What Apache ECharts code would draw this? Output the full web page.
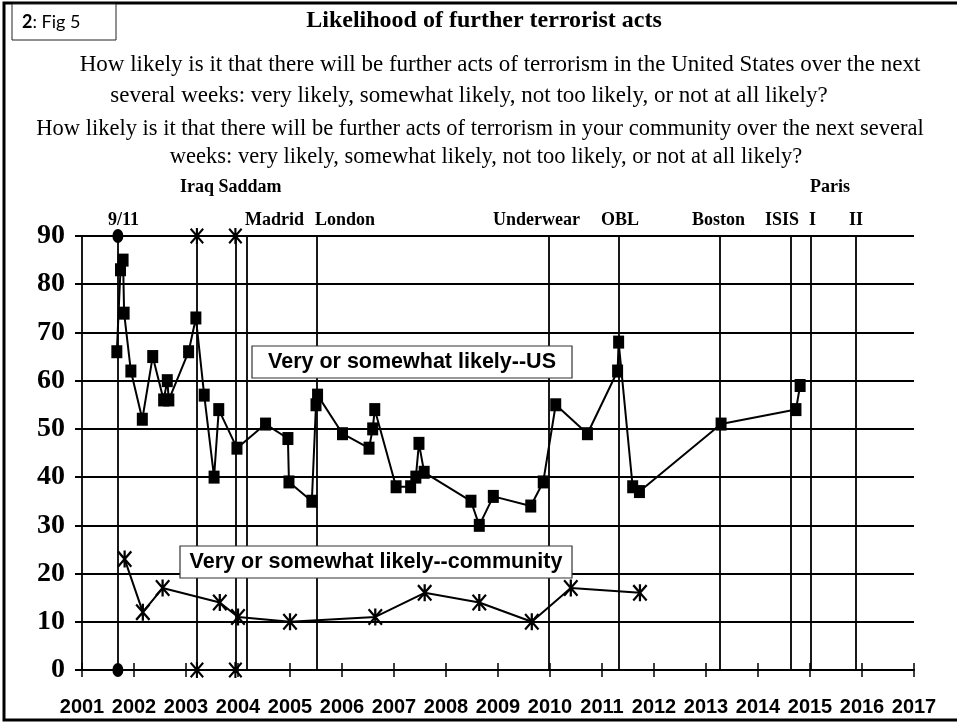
<!DOCTYPE html>
<html>
<head>
<meta charset="utf-8">
<script src="https://cdn.jsdelivr.net/npm/echarts@6/dist/echarts.min.js"></script>
<style>
  html, body { margin: 0; padding: 0; background: #fff; }
  #chart { width: 957px; height: 723px; }
</style>
</head>
<body>
<div id="chart"></div>
<script>
// survey dates (decimal years) and % very/somewhat likely -- US
const usYears = [2001.67, 2001.74, 2001.79, 2001.81, 2001.94, 2002.16, 2002.36, 2002.57, 2002.64, 2002.67,
    2003.05, 2003.19, 2003.35, 2003.54, 2003.63, 2003.98, 2004.53, 2004.96, 2004.98, 2005.42,
    2005.50, 2005.53, 2006.01, 2006.52, 2006.59, 2006.63, 2007.04, 2007.32, 2007.42, 2007.48,
    2007.58, 2008.48, 2008.64, 2008.91, 2009.63, 2009.87, 2010.11, 2010.72, 2011.30, 2011.32,
    2011.59, 2011.72, 2013.29, 2014.73, 2014.81];
const usValues = [66, 83, 85, 74, 62, 52, 65, 56, 60, 56,
    66, 73, 57, 40, 54, 46, 51, 48, 39, 35,
    55, 57, 49, 46, 50, 54, 38, 38, 40, 47,
    41, 35, 30, 36, 34, 39, 55, 49, 62, 68,
    38, 37, 51, 54, 59];

// community
const commYears = [2001.82, 2002.17, 2002.55, 2003.65, 2004.00, 2005.00, 2006.64, 2007.59, 2008.64, 2009.65, 2010.40, 2011.73];
const commValues = [23, 12, 17, 14, 11, 10, 11, 16, 14, 10, 17, 16];

// events: 9/11, Iraq, Saddam, Madrid, London, Underwear, OBL, Boston, ISIS, Paris I, Paris II
const eventYears = [2001.69, 2003.21, 2003.95, 2004.16, 2005.51, 2009.98, 2011.33, 2013.27, 2014.63, 2015.01, 2015.88];
const eventEnds = ['circle', 'star', 'star', '', '', '', '', '', '', '', ''];
const eventSpan = [0, 90];

const yTicks = [0, 10, 20, 30, 40, 50, 60, 70, 80, 90];

// asterisk: vertical bar plus two diagonals
const ASTERISK = 'path://M5.1,0H6.9V14H5.1Z M0,1.3L1.3,0L12,12.7L10.7,14Z M1.3,14L0,12.7L10.7,0L12,1.3Z';
const SERIF = "'Liberation Serif', 'Times New Roman', serif";
const SANS = "'Liberation Sans', Arial, sans-serif";

let chart = echarts.init(document.getElementById('chart'));

let eventLines = eventYears.map(x => ({ xAxis: x }));
let circleEnds = [], starEnds = [];
for (let i = 0; i < eventYears.length; i++) {
    for (let v of eventSpan) {
        if (eventEnds[i] === 'circle') circleEnds.push([eventYears[i], v]);
        if (eventEnds[i] === 'star') starEnds.push([eventYears[i], v]);
    }
}

// event captions above the plot (layout positions)
const captions = [
    ['Iraq Saddam', 180, 187], ['Paris', 810, 187],
    ['9/11', 108, 220], ['Madrid', 245, 220], ['London', 315, 220],
    ['Underwear', 493, 220], ['OBL', 601, 220], ['Boston', 692, 220],
    ['ISIS', 765, 220], ['I', 809, 220], ['II', 849, 220]
];

let graphics = [
    { type: 'rect', shape: { x: 4, y: 3, width: 980, height: 717 }, style: { fill: 'none', stroke: '#000', lineWidth: 3 }, z: 100 },
    { type: 'rect', shape: { x: 12, y: 4, width: 104, height: 36 }, style: { fill: '#fff', stroke: '#222', lineWidth: 1 }, z: 100 },
    { type: 'text', x: 22, y: 22, style: { text: '{b|2}: Fig 5', rich: { b: { fontWeight: 'bold', fontSize: 18, fontFamily: 'Lato' } }, fontSize: 18, fontFamily: 'Lato', fill: '#000', verticalAlign: 'middle' }, z: 101 },
    { type: 'text', x: 484, y: 21, style: { text: 'Likelihood of further terrorist acts', font: 'bold 24px ' + SERIF, fill: '#000', align: 'center', verticalAlign: 'middle' }, z: 101 },
    { type: 'text', x: 500, y: 65, style: { text: 'How likely is it that there will be further acts of terrorism in the United States over the next', font: '23px ' + SERIF, fill: '#000', align: 'center', verticalAlign: 'middle' }, z: 101 },
    { type: 'text', x: 469, y: 96, style: { text: 'several weeks: very likely, somewhat likely, not too likely, or not at all likely?', font: '23px ' + SERIF, fill: '#000', align: 'center', verticalAlign: 'middle' }, z: 101 },
    { type: 'text', x: 480, y: 129, style: { text: 'How likely is it that there will be further acts of terrorism in your community over the next several', font: '22.5px ' + SERIF, fill: '#000', align: 'center', verticalAlign: 'middle' }, z: 101 },
    { type: 'text', x: 486, y: 157, style: { text: 'weeks: very likely, somewhat likely, not too likely, or not at all likely?', font: '22.5px ' + SERIF, fill: '#000', align: 'center', verticalAlign: 'middle' }, z: 101 },
    // series boxes
    { type: 'rect', shape: { x: 252, y: 346, width: 320, height: 32 }, style: { fill: '#fff', stroke: '#333', lineWidth: 1.2 }, z: 100 },
    { type: 'text', x: 412, y: 362, style: { text: 'Very or somewhat likely--US', font: 'bold 21.5px ' + SANS, fill: '#000', align: 'center', verticalAlign: 'middle' }, z: 101 },
    { type: 'rect', shape: { x: 180, y: 546, width: 392, height: 32 }, style: { fill: '#fff', stroke: '#333', lineWidth: 1.2 }, z: 100 },
    { type: 'text', x: 376, y: 562, style: { text: 'Very or somewhat likely--community', font: 'bold 21.5px ' + SANS, fill: '#000', align: 'center', verticalAlign: 'middle' }, z: 101 }
];
for (let c of captions) {
    graphics.push({ type: 'text', x: c[1], y: c[2], style: { text: c[0], font: 'bold 18px ' + SERIF, fill: '#000', verticalAlign: 'middle' }, z: 101 });
}

let option = {
    animation: false,
    backgroundColor: '#fff',
    grid: { left: 82, right: 43, top: 236, bottom: 53 },
    xAxis: [{
        type: 'value', min: 2001, max: 2017, interval: 1,
        axisLine: { show: true, onZero: false, lineStyle: { color: '#000', width: 2 } },
        axisTick: { show: true, length: 7, lineStyle: { color: '#000', width: 1.5 } },
        axisLabel: {
            formatter: function (v) { return String(v); },
            color: '#000', fontFamily: "'Liberation Sans Narrow', 'Arial Narrow', " + SANS,
            fontWeight: 'bold', fontSize: 20, margin: 27, showMinLabel: true, showMaxLabel: true
        },
        splitLine: { show: false }
    }, {
        type: 'value', min: 2001, max: 2017, interval: 1, position: 'bottom',
        axisLine: { show: false },
        axisTick: { show: true, inside: true, length: 7, lineStyle: { color: '#000', width: 1.5 } },
        axisLabel: { show: false },
        splitLine: { show: false }
    }],
    yAxis: {
        type: 'value', min: 0, max: 90, interval: 10,
        axisLine: { show: true, lineStyle: { color: '#000', width: 1.8 } },
        axisTick: { show: true, length: 7, lineStyle: { color: '#000', width: 2 } },
        axisLabel: {
            formatter: function (v) { return yTicks.indexOf(v) >= 0 ? String(v) : ''; },
            color: '#000', fontFamily: SERIF, fontWeight: 'bold', fontSize: 28, margin: 17
        },
        splitLine: { show: true, lineStyle: { color: '#000', width: 2 } }
    },
    series: [{
        name: 'events',
        type: 'scatter',
        data: circleEnds,
        symbol: 'circle', symbolSize: [11, 14],
        itemStyle: { color: '#000', opacity: 1 },
        clip: false,
        markLine: {
            silent: true,
            animation: false,
            symbol: ['none', 'none'],
            label: { show: false },
            lineStyle: { color: '#000', width: 1.8, type: 'solid' },
            emphasis: { disabled: true },
            data: eventLines
        },
        z: 2
    }, {
        name: 'event ends',
        type: 'scatter',
        data: starEnds,
        symbol: ASTERISK, symbolSize: [14, 16],
        itemStyle: { color: '#000', opacity: 1 },
        clip: false,
        z: 3
    }, {
        name: 'Very or somewhat likely--US',
        type: 'line',
        data: usYears.map((x, i) => [x, usValues[i]]),
        symbol: 'rect', symbolSize: [11, 13],
        lineStyle: { color: '#000', width: 2 },
        itemStyle: { color: '#000' },
        z: 3
    }, {
        name: 'Very or somewhat likely--community',
        type: 'line',
        data: commYears.map((x, i) => [x, commValues[i]]),
        symbol: ASTERISK, symbolSize: [15, 17],
        lineStyle: { color: '#000', width: 2 },
        itemStyle: { color: '#000' },
        z: 3
    }],
    graphic: graphics
};

chart.setOption(option);
</script>
</body>
</html>
